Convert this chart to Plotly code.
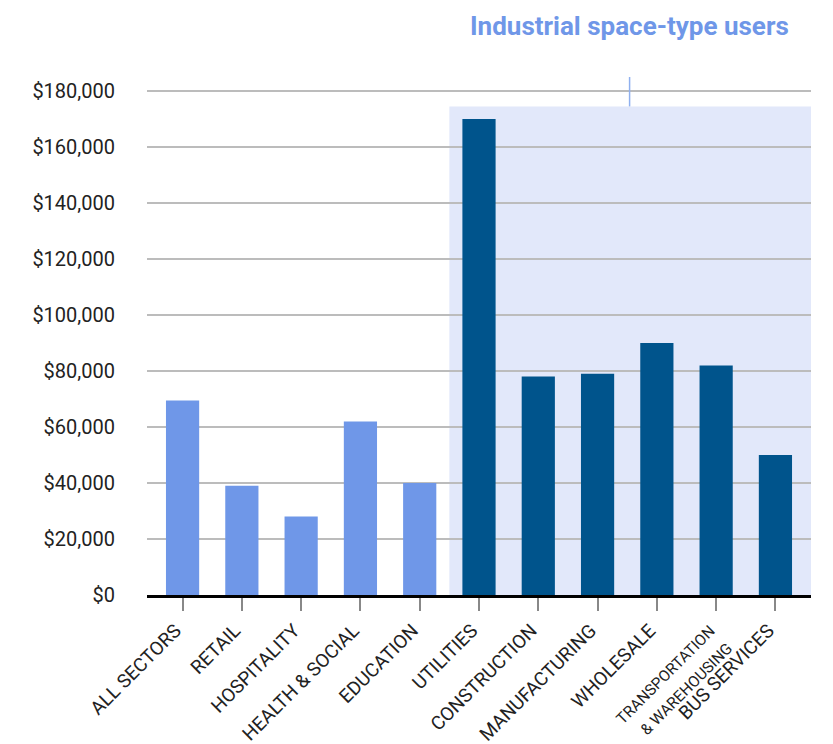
import plotly.graph_objects as go

categories = ["ALL SECTORS", "RETAIL", "HOSPITALITY", "HEALTH & SOCIAL", "EDUCATION",
              "UTILITIES", "CONSTRUCTION", "MANUFACTURING", "WHOLESALE",
              "TRANSPORTATION & WAREHOUSING", "BUS SERVICES"]
values = [69500, 39000, 28000, 62000, 40000, 170000, 78000, 79000, 90000, 82000, 50000]
industrial = [False, False, False, False, False, True, True, True, True, True, True]
tick_labels = ["ALL SECTORS", "RETAIL", "HOSPITALITY", "HEALTH & SOCIAL", "EDUCATION",
               "UTILITIES", "CONSTRUCTION", "MANUFACTURING", "WHOLESALE",
               "<span style='font-size:15.5px'>TRANSPORTATION<br>& WAREHOUSING</span>",
               "BUS SERVICES"]
annotation_text = "Industrial space-type users"
shade_top = 174500

LIGHT = "#6f97e8"
DARK = "#00548c"
SHADE = "#e2e8fa"
FONT = "Roboto"

colors = [DARK if f else LIGHT for f in industrial]

fig = go.Figure()
fig.add_trace(go.Bar(x=categories, y=values, marker=dict(color=colors, line=dict(width=0)),
                     hoverinfo="x+y"))

first_ind = industrial.index(True)
fig.add_shape(type="rect", xref="x", yref="y", x0=first_ind - 0.5, x1=len(categories) - 0.4,
              y0=0, y1=shade_top, fillcolor=SHADE, line=dict(width=0), layer="below")
fig.add_shape(type="line", xref="x", yref="y", x0=7.54, x1=7.54, y0=shade_top, y1=195500,
              line=dict(color="#8fb0ef", width=1.5))
fig.add_annotation(x=7.54, xref="x", y=1.0985, yref="paper", text=annotation_text,
                   showarrow=False, xanchor="center", yanchor="middle",
                   font=dict(family=FONT, size=26, color=LIGHT, weight="bold"))

# the page body adds an 8px offset, so the figure is sized to fit the window
fig.update_layout(
    width=825, height=736,
    margin=dict(l=139, r=22, t=69, b=149, autoexpand=False),
    plot_bgcolor="rgba(0,0,0,0)", paper_bgcolor="white",
    showlegend=False, bargap=0.44,
    font=dict(family=FONT, color="#222222"),
)
fig.update_xaxes(
    range=[-0.6, 10.6], tickmode="array", tickvals=categories, ticktext=tick_labels,
    tickangle=-45, ticks="outside", ticklen=13, tickwidth=1.5, tickcolor="#888888",
    ticklabelshift=-7, ticklabelstandoff=1, automargin=False,
    showgrid=False, showline=True, linecolor="black", linewidth=3,
    tickfont=dict(family=FONT, size=19, color="#222222"),
)
fig.update_yaxes(
    range=[0, 185000], dtick=20000, tick0=0, tickprefix="$", tickformat=",",
    showgrid=True, gridcolor="#bcbcbc", gridwidth=1.8, zeroline=False,
    ticks="outside", ticklen=27, tickcolor="rgba(0,0,0,0)", automargin=False,
    tickfont=dict(family=FONT, size=20, color="#222222"),
)

fig.write_html("out.html")
